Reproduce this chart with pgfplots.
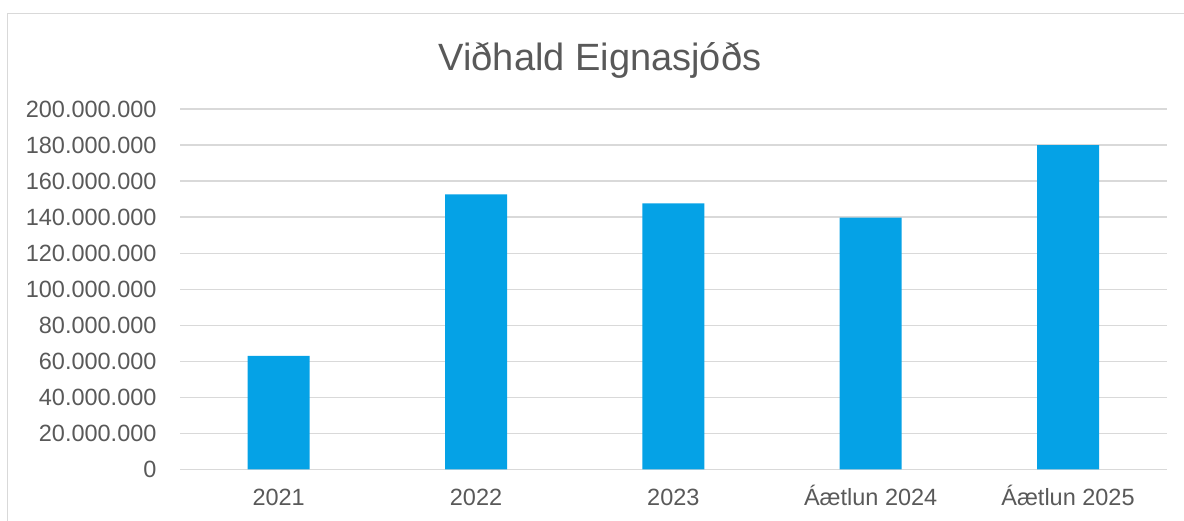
\documentclass[border=0pt]{standalone}
\usepackage{pgfplots}
\pgfplotsset{compat=1.18}
\usepackage{fontspec}
\setmainfont{Liberation Sans}

\definecolor{barblue}{RGB}{5,162,230}
\definecolor{txtgray}{RGB}{89,89,89}
\definecolor{gridgray}{RGB}{217,217,217}

\begin{document}
\begin{tikzpicture}
\useasboundingbox (0,0) rectangle (1184bp,521bp);
% chart frame
\draw[gridgray,line width=1.4bp] (7.3bp,-5bp) -- (7.3bp,507.7bp) -- (1195bp,507.7bp);

\begin{axis}[
    at={(180bp,51.5bp)},
    anchor=south west,
    scale only axis,
    width=986.7bp,
    height=360.5bp,
    xmin=-0.5, xmax=4.5,
    ymin=0, ymax=200000000,
    ytick distance=20000000,
    xtick={0,1,2,3,4},
    xticklabels={2021,2022,2023,Áætlun 2024,Áætlun 2025},
    scaled y ticks=false,
    /pgf/number format/fixed,
    /pgf/number format/precision=0,
    /pgf/number format/1000 sep={.},
    /pgf/number format/assume math mode=true,
    axis line style={draw=none},
    major tick length=0pt,
    ymajorgrids,
    grid style={gridgray,line width=1.3bp},
    tick label style={txtgray,font=\fontsize{23.5bp}{28bp}\selectfont},
    yticklabel style={anchor=east,inner sep=0pt,xshift=-23.3bp},
    xticklabel style={anchor=base,inner sep=0pt,yshift=-36.5bp},
    clip=false
]
\addplot[ybar,bar width=62bp,bar shift=0pt,fill=barblue,draw=none]
coordinates {
(0,63000000)
(1,152700000)
(2,147700000)
(3,139700000)
(4,180000000)
};
\end{axis}

% title
\node[anchor=base,txtgray,font=\fontsize{38bp}{44bp}\selectfont,inner sep=0pt]
  at (600bp,450.7bp) {Viðhald Eignasjóðs};
\end{tikzpicture}
\end{document}
